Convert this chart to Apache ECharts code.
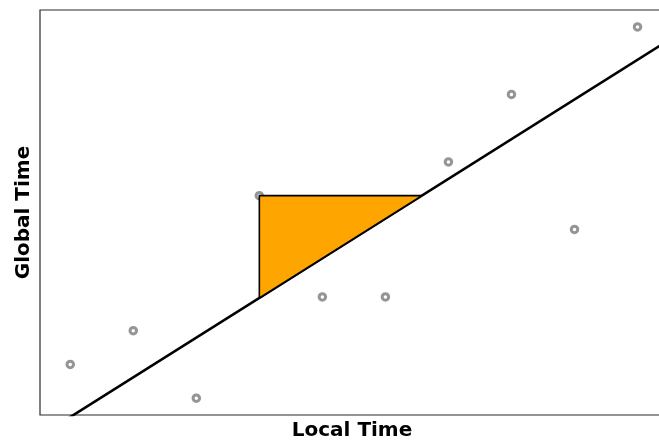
<!DOCTYPE html>
<html>
<head>
<meta charset="utf-8">
<script src="https://cdn.jsdelivr.net/npm/echarts@6/dist/echarts.min.js"></script>
<style>
  html, body { margin: 0; padding: 0; background: #fff; }
  #chart { width: 659px; height: 441px; }
</style>
</head>
<body>
<div id="chart"></div>
<script>
// Sampled clock readings: local tick index vs. global time
const localTime = [0, 1, 2, 3, 4, 5, 6, 7, 8, 9];
const globalTime = [1, 2, 0, 6, 3, 3, 7, 9, 5, 11];

// Fitted clock-mapping line: global = slope * local + intercept
const fitSlope = 1.176;
const fitIntercept = -0.56;

// Sample whose offset from the fit is shaded
const highlightIndex = 3;

const xRange = [-0.48, 9.42];
const yRange = [-0.5, 11.5];

const fit = x => fitSlope * x + fitIntercept;
const fitInverse = y => (y - fitIntercept) / fitSlope;

const samples = localTime.map((x, i) => [x, globalTime[i]]);
const lineEnds = [[xRange[0] - 1, fit(xRange[0] - 1)], [xRange[1] + 1, fit(xRange[1] + 1)]];

const hx = localTime[highlightIndex];
const hy = globalTime[highlightIndex];
const triangle = [[hx, hy], [hx, fit(hx)], [fitInverse(hy), hy]];

const chart = echarts.init(document.getElementById('chart'), null, { renderer: 'canvas' });

const hiddenAxis = {
  type: 'value',
  axisLine: { show: false },
  axisTick: { show: false },
  axisLabel: { show: false },
  splitLine: { show: false },
  nameLocation: 'middle',
  nameTextStyle: {
    fontFamily: 'DejaVu Sans',
    fontWeight: 'bold',
    fontSize: 20,
    color: '#000'
  }
};

chart.setOption({
  animation: false,
  backgroundColor: '#fff',
  grid: {
    left: 40, top: 10, width: 624, height: 405,
    outerBoundsMode: 'none',
    containLabel: false,
    show: true, borderColor: '#2b2b2b', borderWidth: 1.2,
    backgroundColor: 'transparent'
  },
  xAxis: Object.assign({}, hiddenAxis, {
    min: xRange[0], max: xRange[1],
    name: 'Local Time', nameGap: 6
  }),
  yAxis: Object.assign({}, hiddenAxis, {
    min: yRange[0], max: yRange[1],
    name: 'Global Time', nameGap: 6
  }),
  series: [
    {
      type: 'scatter',
      data: samples,
      symbol: 'circle',
      symbolSize: 6.5,
      z: 2,
      itemStyle: { color: '#fff', borderColor: '#7a7a7a', borderWidth: 3 }
    },
    {
      type: 'line',
      data: lineEnds,
      showSymbol: false,
      clip: true,
      z: 3,
      lineStyle: { color: '#000', width: 2.6 }
    },
    {
      type: 'custom',
      data: [0],
      clip: true,
      z: 4,
      renderItem: (params, api) => ({
        type: 'polygon',
        shape: { points: triangle.map(p => api.coord(p)) },
        style: { fill: '#FFA500', stroke: '#000', lineWidth: 1.6 }
      })
    }
  ]
});
</script>
</body>
</html>
